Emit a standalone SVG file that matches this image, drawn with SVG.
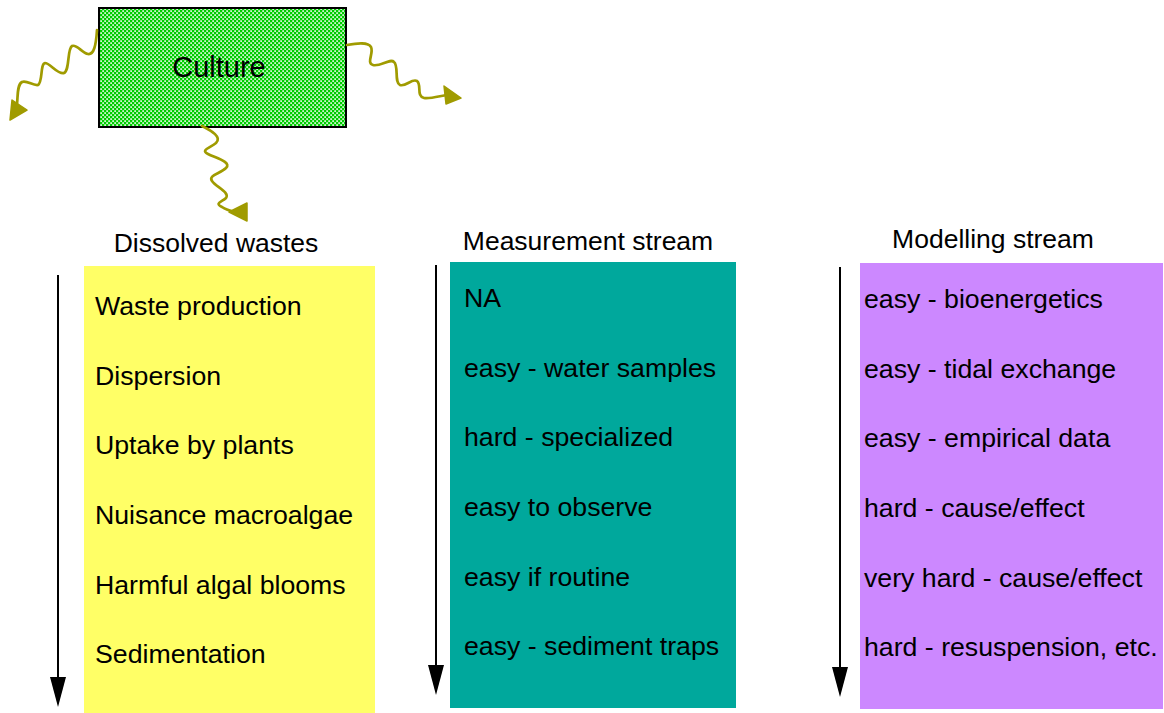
<svg xmlns="http://www.w3.org/2000/svg" width="1164" height="713" viewBox="0 0 1164 713">
<style>
text{font-family:"Liberation Sans",Arial,sans-serif;fill:#000;}
.h{font-size:26.5px;text-anchor:middle;}
.t{font-size:26.7px;}
.wave{fill:none;stroke:#A09B00;stroke-width:2.7;stroke-linecap:round;}
.whead{fill:#A09B00;stroke:#A09B00;stroke-width:1.5;stroke-linejoin:round;}
.vline{stroke:#000;stroke-width:2;}
</style>
<defs>
<pattern id="chk" width="4" height="4" patternUnits="userSpaceOnUse">
<rect width="4" height="4" fill="#00CC00"/>
<rect x="0.3" y="0.3" width="1.6" height="1.6" fill="#FFFFFF"/>
<rect x="2.3" y="2.3" width="1.6" height="1.6" fill="#FFFFFF"/>
</pattern>
</defs>

<g id="culture">
<rect x="99" y="8" width="247" height="119" fill="url(#chk)" stroke="#000" stroke-width="2"/>
<text x="219" y="77" font-size="29" text-anchor="middle">Culture</text>
</g>

<g id="connectors">
<path class="wave" d="M97,30 C96,45 94,55 88,54 C82,53 77,44 72,46 C67,49 70,70 64,73 C58,75 50,63 45,63 C40,64 43,82 38,85 C33,86 27,80 22,82 C17,85 18,95 17,104"/>
<polygon class="whead" points="12,100 27,110 10,120"/>
<path class="wave" d="M347,45 C358,43 368,42 371,47 C374,53 366,63 373,65 C380,67 390,58 394,62 C399,66 394,82 400,85 C406,87 412,78 417,81 C422,85 416,96 424,98 C430,99 440,96 447,95"/>
<polygon class="whead" points="444,86 461,98 446,104"/>
<path class="wave" d="M202,126 C212,131 222,137 216,143 C210,148 200,150 208,154 C216,158 232,162 226,168 C220,174 208,175 212,181 C216,187 230,192 226,198 C222,202 214,203 222,207 C226,210 231,211 236,212"/>
<polygon class="whead" points="229,212 247,203 247,221"/>
<line class="vline" x1="58" y1="275" x2="58" y2="680"/>
<polygon points="50,677 66,677 58,707" fill="#000"/>
<line class="vline" x1="436" y1="265" x2="436" y2="668"/>
<polygon points="428,665 444,665 436,695" fill="#000"/>
<line class="vline" x1="840" y1="267" x2="840" y2="670"/>
<polygon points="832,667 848,667 840,697" fill="#000"/>
</g>

<g id="dissolved">
<text class="h" x="216" y="252">Dissolved wastes</text>
<rect x="84" y="266" width="291" height="447" fill="#FFFF66"/>
<text class="t" x="95" y="315">Waste production</text>
<text class="t" x="95" y="385">Dispersion</text>
<text class="t" x="95" y="454">Uptake by plants</text>
<text class="t" x="95" y="524">Nuisance macroalgae</text>
<text class="t" x="95" y="594">Harmful algal blooms</text>
<text class="t" x="95" y="663">Sedimentation</text>
</g>

<g id="measurement">
<text class="h" x="588" y="250">Measurement stream</text>
<rect x="450" y="262" width="286" height="446" fill="#00A89C"/>
<text class="t" x="464" y="307">NA</text>
<text class="t" x="464" y="377">easy - water samples</text>
<text class="t" x="464" y="446">hard - specialized</text>
<text class="t" x="464" y="516">easy to observe</text>
<text class="t" x="464" y="586">easy if routine</text>
<text class="t" x="464" y="655">easy - sediment traps</text>
</g>

<g id="modelling">
<text class="h" x="993" y="248">Modelling stream</text>
<rect x="860" y="263" width="303" height="446" fill="#CC88FF"/>
<text class="t" x="864" y="308">easy - bioenergetics</text>
<text class="t" x="864" y="378">easy - tidal exchange</text>
<text class="t" x="864" y="447">easy - empirical data</text>
<text class="t" x="864" y="517">hard - cause/effect</text>
<text class="t" x="864" y="587">very hard - cause/effect</text>
<text class="t" x="864" y="656">hard - resuspension, etc.</text>
</g>
</svg>
